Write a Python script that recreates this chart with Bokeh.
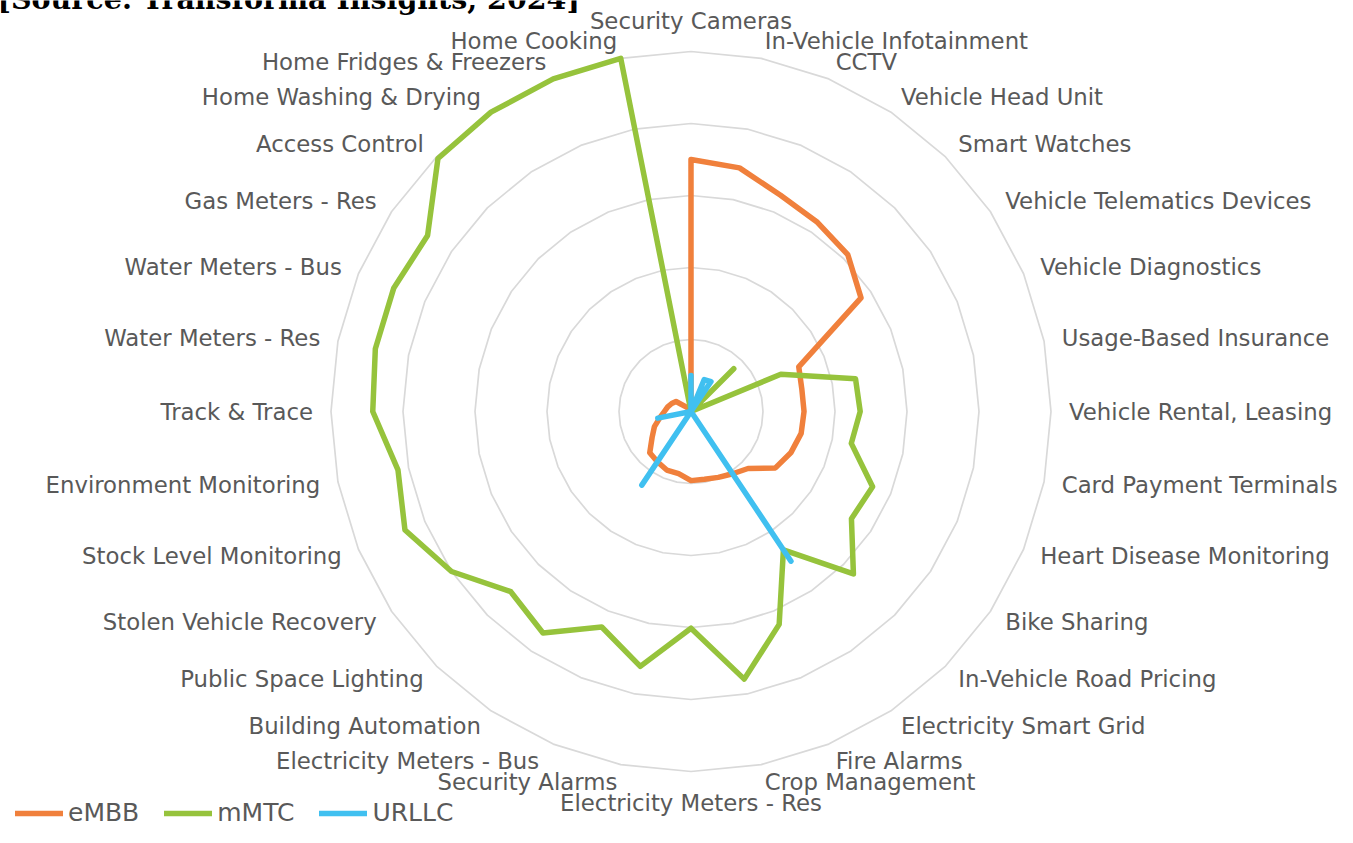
import math
from bokeh.plotting import figure
from bokeh.models import ColumnDataSource, Range1d, Legend, LegendItem, Label
from bokeh.core.properties import value
from bokeh.embed import file_html
from bokeh.resources import INLINE

# ---------------- data ----------------
categories = [
    "Security Cameras", "In-Vehicle Infotainment", "CCTV", "Vehicle Head Unit",
    "Smart Watches", "Vehicle Telematics Devices", "Vehicle Diagnostics",
    "Usage-Based Insurance", "Vehicle Rental, Leasing", "Card Payment Terminals",
    "Heart Disease Monitoring", "Bike Sharing", "In-Vehicle Road Pricing",
    "Electricity Smart Grid", "Fire Alarms", "Crop Management",
    "Electricity Meters - Res", "Security Alarms", "Electricity  Meters - Bus",
    "Building Automation", "Public Space Lighting", "Stolen Vehicle Recovery",
    "Stock Level Monitoring", "Environment Monitoring", "Track & Trace",
    "Water Meters - Res", "Water Meters - Bus", "Gas Meters - Res",
    "Access Control", "Home Washing & Drying", "Home Fridges & Freezers",
    "Home Cooking",
]
embb = [35.0, 34.5, 32.5, 31.6, 30.8, 28.4, 16.2, 15.7, 15.7, 15.6, 15.0, 14.1,
        11.2, 10.4, 9.9, 9.6, 9.6, 8.8, 8.8, 8.4, 8.1, 6.5, 5.5, 4.4, 3.7, 3.3,
        2.9, 2.5, 0.8, 0.0, 0.0, 0.0]
mmtc = [0.0, 0.0, 0.0, 0.0, 8.4, 0.0, 13.5, 23.3, 23.5, 22.7, 27.3, 26.8,
        31.9, 23.1, 32.0, 37.9, 30.1, 36.1, 32.4, 37.0, 35.4, 40.0, 43.0, 41.5,
        44.2, 44.7, 44.7, 44.0, 49.7, 50.0, 50.0, 50.0]
urllc = [5.0, 0.0, 4.8, 5.0, 0.0, 0.0, 0.0, 0.0, 0.0, 0.0, 0.0, 0.0, 0.0,
         25.0, 0.0, 0.0, 0.0, 0.0, 0.0, 12.3, 0.0, 0.0, 0.0, 4.7, 0.0, 0.0,
         0.0, 0.0, 0.0, 0.0, 0.0, 0.0]
series_names = ["eMBB", "mMTC", "URLLC"]
ring_levels = [10, 20, 30, 40, 50]
title_text = "[Source: Transforma Insights, 2024]"

# ---------------- layout ----------------
W, H = 1337, 827
cx, cy = 690.5, 411.0     # centre in canvas px
ppu = 7.2                 # px per unit
LABEL_R = 52.5

n = len(categories)
ang = [2 * math.pi * i / n for i in range(n)]

p = figure(width=W, height=H, output_backend="svg", toolbar_location=None,
           x_range=Range1d(-cx / ppu, (W - cx) / ppu),
           y_range=Range1d(-(H - cy) / ppu, cy / ppu),
           min_border=0, outline_line_color=None)
p.axis.visible = False
p.grid.visible = False
p.background_fill_color = "white"

# rings
for lv in ring_levels:
    xs = [lv * math.sin(a) for a in ang]
    ys = [lv * math.cos(a) for a in ang]
    xs.append(xs[0]); ys.append(ys[0])
    p.line(xs, ys, line_color="#d9d9d9", line_width=1.7)

# category labels
lx, ly, al, bl = [], [], [], []
for a in ang:
    s, c = math.sin(a), math.cos(a)
    lx.append(LABEL_R * s)
    ly.append(LABEL_R * c)
    if abs(s) < 1e-6:
        al.append("center")
        bl.append("bottom" if c > 0 else "top")
    else:
        al.append("left" if s > 0 else "right")
        bl.append("middle")
lab_src = ColumnDataSource(dict(x=lx, y=ly, t=categories, al=al, bl=bl))
p.text(x="x", y="y", text="t", text_align="al", text_baseline="bl",
       source=lab_src, text_font=value("DejaVu Sans"), text_font_size="22.8px",
       text_color="#595959")

colors = ["#F0803C", "#96C33C", "#40C0F0"]
renderers = []
for vals, col in zip([embb, mmtc, urllc], colors):
    xs = [v * math.sin(a) for v, a in zip(vals, ang)]
    ys = [v * math.cos(a) for v, a in zip(vals, ang)]
    xs.append(xs[0]); ys.append(ys[0])
    r = p.line(xs, ys, line_color=col, line_width=5.5,
               line_join="round", line_cap="round")
    renderers.append(r)

legend = Legend(items=[LegendItem(label=nm, renderers=[r])
                       for nm, r in zip(series_names, renderers)],
                orientation="horizontal", location=(15, 0),
                glyph_width=48, glyph_height=20, label_standoff=5, spacing=25,
                padding=0, margin=0, border_line_color=None,
                background_fill_alpha=0, label_text_font="DejaVu Sans",
                label_text_font_size="25px", label_text_color="#595959")
p.add_layout(legend, "center")

p.add_layout(Label(x=-3, y=H + 2, x_units="screen", y_units="screen",
                   text=title_text, text_font="DejaVu Serif",
                   text_font_style="bold", text_font_size="28.5px",
                   text_color="#000000", text_baseline="alphabetic"))

open("out.html", "w").write(file_html(p, INLINE))
